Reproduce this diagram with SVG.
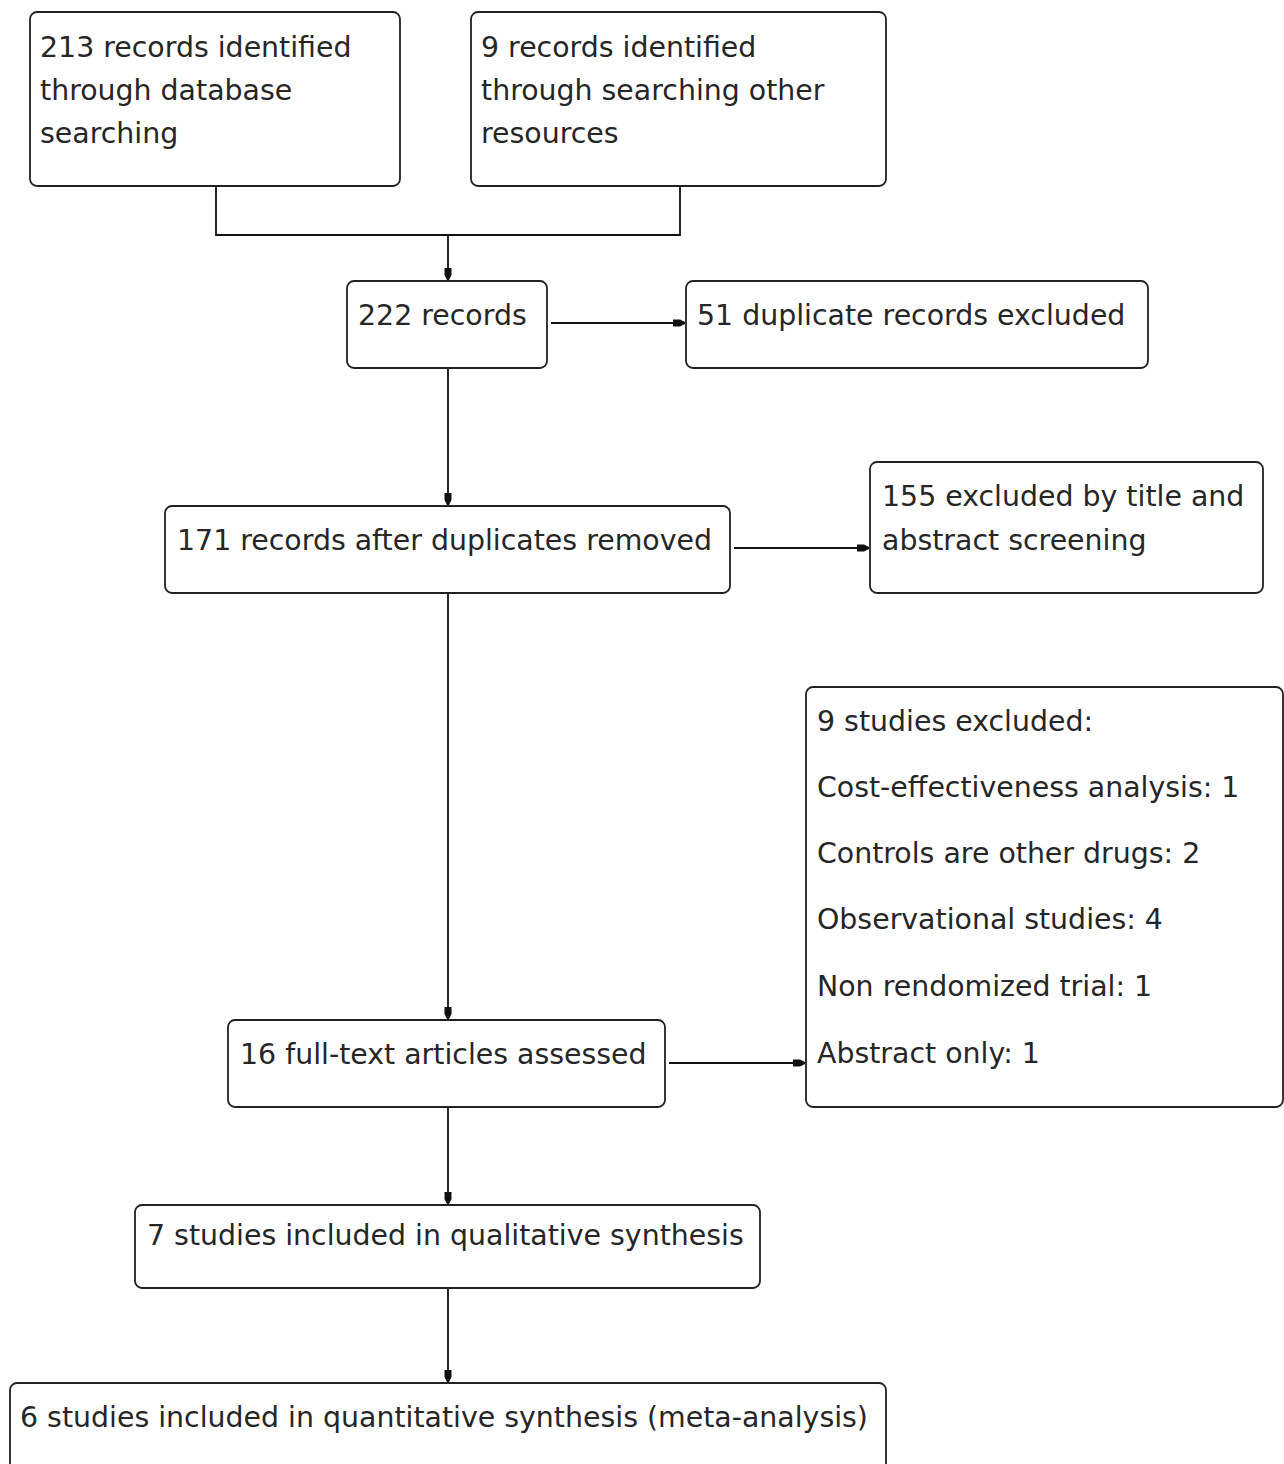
<svg xmlns="http://www.w3.org/2000/svg" width="1284" height="1464" viewBox="0 0 1284 1464">
<style>
.box{fill:#fff;stroke:#222;stroke-width:1.8}
.t{font-family:"DejaVu Sans","Liberation Sans",sans-serif;font-size:28.4px;fill:#262626}
.c{fill:none;stroke:#111;stroke-width:1.8}
</style>
<defs>
<marker id="ah" viewBox="0 0 12 10" refX="12" refY="5" markerWidth="12" markerHeight="10" markerUnits="userSpaceOnUse" orient="auto">
<path d="M0,1.5 L7,1.5 L12,4 L12,6 L7,8.5 L0,8.5 Z" fill="#111"/>
</marker>
</defs>
<g id="connectors">
<path class="c" d="M216,186 V235 H680 V186"/>
<path class="c" d="M448,235 V280" marker-end="url(#ah)"/>
<path class="c" d="M551,323 H685" marker-end="url(#ah)"/>
<path class="c" d="M448,368 V505" marker-end="url(#ah)"/>
<path class="c" d="M734,548 H869" marker-end="url(#ah)"/>
<path class="c" d="M448,593 V1019" marker-end="url(#ah)"/>
<path class="c" d="M669,1063 H805" marker-end="url(#ah)"/>
<path class="c" d="M448,1107 V1204" marker-end="url(#ah)"/>
<path class="c" d="M448,1288 V1382" marker-end="url(#ah)"/>
</g>
<g id="n1"><rect class="box" x="30" y="12" width="370" height="174" rx="7"/>
<text class="t" x="40" y="57">213 records identified</text><text class="t" x="40" y="100">through database</text><text class="t" x="40" y="143">searching</text></g>
<g id="n2"><rect class="box" x="471" y="12" width="415" height="174" rx="7"/>
<text class="t" x="481" y="57">9 records identified</text><text class="t" x="481" y="100">through searching other</text><text class="t" x="481" y="143">resources</text></g>
<g id="n3"><rect class="box" x="347" y="281" width="200" height="87" rx="7"/>
<text class="t" x="358" y="325">222 records</text></g>
<g id="n4"><rect class="box" x="686" y="281" width="462" height="87" rx="7"/>
<text class="t" x="697" y="325">51 duplicate records excluded</text></g>
<g id="n5"><rect class="box" x="165" y="506" width="565" height="87" rx="7"/>
<text class="t" x="177" y="550">171 records after duplicates removed</text></g>
<g id="n6"><rect class="box" x="870" y="462" width="393" height="131" rx="7"/>
<text class="t" x="882" y="506">155 excluded by title and</text><text class="t" x="882" y="550">abstract screening</text></g>
<g id="n7"><rect class="box" x="806" y="687" width="477" height="420" rx="7"/>
<text class="t" x="817" y="731">9 studies excluded:</text>
<text class="t" x="817" y="797">Cost-effectiveness analysis: 1</text>
<text class="t" x="817" y="863">Controls are other drugs: 2</text>
<text class="t" x="817" y="929">Observational studies: 4</text>
<text class="t" x="817" y="996">Non rendomized trial: 1</text>
<text class="t" x="817" y="1063">Abstract only: 1</text></g>
<g id="n8"><rect class="box" x="228" y="1020" width="437" height="87" rx="7"/>
<text class="t" x="240" y="1064">16 full-text articles assessed</text></g>
<g id="n9"><rect class="box" x="135" y="1205" width="625" height="83" rx="7"/>
<text class="t" x="147" y="1245">7 studies included in qualitative synthesis</text></g>
<g id="n10"><rect class="box" x="10" y="1383" width="876" height="100" rx="7"/>
<text class="t" x="20" y="1427">6 studies included in quantitative synthesis (meta-analysis)</text></g>
</svg>
